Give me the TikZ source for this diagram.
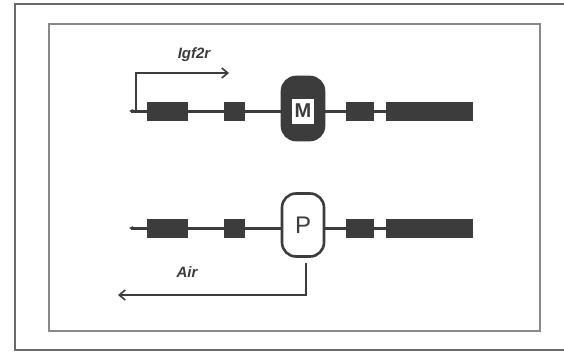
\documentclass[tikz,border=0pt]{standalone}
\usepackage{fontspec}
\setmainfont{Liberation Sans}
\usetikzlibrary{arrows.meta}
\definecolor{ink}{HTML}{3C3C3C}
\definecolor{frame}{HTML}{6A6A6A}
\tikzset{
  backbone/.style={draw=ink, line width=3pt},
  exon/.style={fill=ink, draw=none},
  tss/.style={draw=ink, line width=1.6pt, -{Straight Barb[length=6pt,width=10pt,line width=1.6pt]}},
  genelabel/.style={font=\bfseries\itshape\fontsize{15}{15}\selectfont, text=ink, inner sep=0pt},
  marker/.style={rounded corners=14pt, line width=2.6pt, draw=ink, minimum width=42pt, minimum height=63pt, inner sep=0pt}
}
\begin{document}
\begin{tikzpicture}[x=1pt,y=-1pt]
\useasboundingbox (0,0) rectangle (564,353);
% outer frame
\draw[frame, line width=1.8pt] (566,4) -- (15,4) -- (15,350) -- (566,350);
% inner frame
\draw[frame!80, line width=1.2pt] (49,24) rectangle (540,331);

% top gene
\coordinate (tL) at (131,111);
\coordinate (tR) at (473,111);
\draw[backbone] (tL) -- (tR);
\fill[ink] (129,111) -- (133,109) -- (133,113) -- cycle;
\fill[exon] (147,102) rectangle (188,121);
\fill[exon] (224,102) rectangle (245,121);
\fill[exon] (346,102) rectangle (374,121);
\fill[exon] (386,102) rectangle (473,121);
\node[marker, fill=ink] (M) at (303,108.5) {};
\node[fill=white, draw=white, minimum width=21pt, minimum height=24pt, inner sep=0pt, font=\bfseries\fontsize{20}{20}\selectfont, text=ink] (Mtxt) at (303,111) {M};
\coordinate (tss1) at (136,110);
\coordinate (tss1top) at (136,73);
\coordinate (tss1end) at (229,73);
\draw[tss] (tss1) -- (tss1top) -- (tss1end);
\node[genelabel] (Igf) at (194,55) {Igf2r};

% bottom gene
\coordinate (bL) at (131,228);
\coordinate (bR) at (473,228);
\draw[backbone] (bL) -- (bR);
\fill[ink] (129,228) -- (133,226) -- (133,230) -- cycle;
\fill[exon] (147,219) rectangle (188,238);
\fill[exon] (224,219) rectangle (245,238);
\fill[exon] (346,219) rectangle (374,238);
\fill[exon] (386,219) rectangle (473,238);
\node[marker, fill=white, font=\fontsize{24}{24}\selectfont, text=ink] (P) at (303,225) {P};
\coordinate (tss2) at (306,263);
\coordinate (tss2bot) at (306,295);
\coordinate (tss2end) at (118,295);
\draw[tss] (tss2) -- (tss2bot) -- (tss2end);
\node[genelabel] (Air) at (187,272) {Air};
\end{tikzpicture}
\end{document}
